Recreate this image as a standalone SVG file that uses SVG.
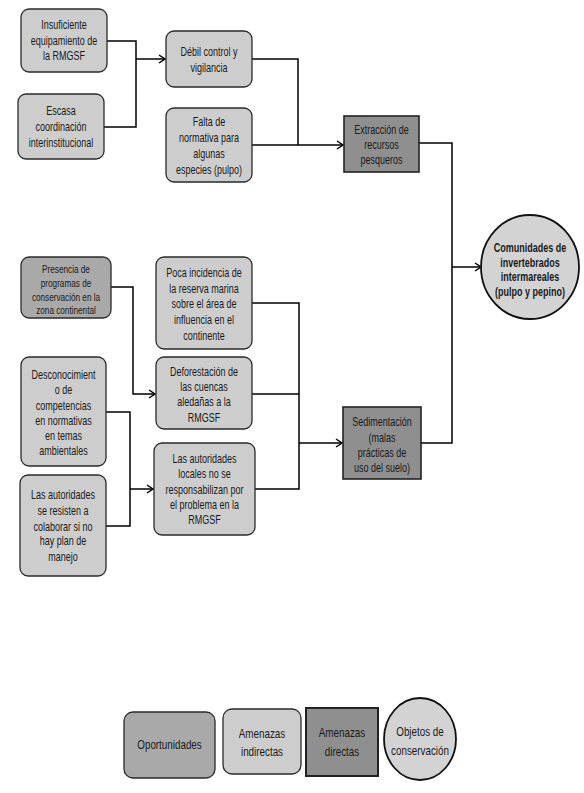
<svg xmlns="http://www.w3.org/2000/svg" width="584" height="793" viewBox="0 0 584 793">
<defs>
<marker id="arr" markerWidth="8" markerHeight="10" refX="7" refY="5" orient="auto" markerUnits="userSpaceOnUse">
<path d="M1,1 L7,5 L1,9" fill="none" stroke="#000" stroke-width="1.5"/>
</marker>
</defs>
<style>
text{font-family:"Liberation Sans",Arial,sans-serif;font-size:12.5px;fill:#1a1a1a;text-anchor:middle}
.ind{fill:#cdcdcd;stroke:#2a2a2a;stroke-width:1.3}
.opo{fill:#a9a9a9;stroke:#2a2a2a;stroke-width:1.3}
.dir{fill:#8f8f8f;stroke:#222;stroke-width:1.6}
.obj{fill:#d3d3d3;stroke:#111;stroke-width:1.8}
.b{font-weight:bold}
.lg{font-size:13px}
.c{fill:none;stroke:#000;stroke-width:1.5}
</style>
<rect width="584" height="793" fill="#fff"/>
<g id="connectors">
<path class="c" d="M107 41 H136 V127 H104"/>
<path class="c" d="M136 59 H165" marker-end="url(#arr)"/>
<path class="c" d="M252 59 H298 V145"/>
<path class="c" d="M252 145 H343" marker-end="url(#arr)"/>
<path class="c" d="M419 143 H452 V443 H421"/>
<path class="c" d="M452 267 H481" marker-end="url(#arr)"/>
<path class="c" d="M111 287 H133 V394 H155" marker-end="url(#arr)"/>
<path class="c" d="M106 412 H130 V526 H106"/>
<path class="c" d="M130 489 H153" marker-end="url(#arr)"/>
<path class="c" d="M252 303 H299 V489 H255"/>
<path class="c" d="M252 394 H299"/>
<path class="c" d="M299 443 H342" marker-end="url(#arr)"/>
</g>
<g id="n1"><rect class="ind" x="21" y="9" width="86" height="63" rx="8"/>
<text transform="translate(64 0) scale(0.72 1)"><tspan x="0" y="29.5">Insuficiente</tspan><tspan x="0" y="45">equipamiento de</tspan><tspan x="0" y="60.5">la RMGSF</tspan></text></g>
<g id="n2"><rect class="ind" x="18" y="94" width="86" height="65" rx="8"/>
<text transform="translate(61 0) scale(0.72 1)"><tspan x="0" y="115.5">Escasa</tspan><tspan x="0" y="131.5">coordinación</tspan><tspan x="0" y="147.5">interinstitucional</tspan></text></g>
<g id="n3"><rect class="ind" x="166" y="31" width="86" height="56" rx="8"/>
<text transform="translate(209 0) scale(0.72 1)"><tspan x="0" y="56.5">Débil control y</tspan><tspan x="0" y="72.5">vigilancia</tspan></text></g>
<g id="n4"><rect class="ind" x="166" y="108" width="86" height="74" rx="8"/>
<text transform="translate(209 0) scale(0.72 1)"><tspan x="0" y="126.5">Falta de</tspan><tspan x="0" y="142.5">normativa para</tspan><tspan x="0" y="158.5">algunas</tspan><tspan x="0" y="174.5">especies (pulpo)</tspan></text></g>
<g id="n5"><rect class="dir" x="344" y="116" width="75" height="56"/>
<text transform="translate(381.5 0) scale(0.72 1)"><tspan x="0" y="134.5">Extracción de</tspan><tspan x="0" y="149.5">recursos</tspan><tspan x="0" y="164.5">pesqueros</tspan></text></g>
<g id="n6"><ellipse class="obj" cx="530" cy="267" rx="49" ry="52"/>
<text class="b" transform="translate(530 0) scale(0.72 1)"><tspan x="0" y="252.5">Comunidades de</tspan><tspan x="0" y="267">invertebrados</tspan><tspan x="0" y="281.5">intermareales</tspan><tspan x="0" y="296.5">(pulpo y pepino)</tspan></text></g>
<g id="n7"><rect class="opo" x="21" y="257" width="90" height="61" rx="8"/>
<text style="font-size:11.5px" transform="translate(66 0) scale(0.713 1)"><tspan x="0" y="273.5">Presencia de</tspan><tspan x="0" y="287.5">programas de</tspan><tspan x="0" y="301.5">conservación en la</tspan><tspan x="0" y="314.5">zona continental</tspan></text></g>
<g id="n8"><rect class="ind" x="156" y="257" width="96" height="92" rx="8"/>
<text transform="translate(204 0) scale(0.72 1)"><tspan x="0" y="277.5">Poca incidencia de</tspan><tspan x="0" y="293.5">la reserva marina</tspan><tspan x="0" y="308.5">sobre el área de</tspan><tspan x="0" y="324.5">influencia en el</tspan><tspan x="0" y="340.5">continente</tspan></text></g>
<g id="n9"><rect class="ind" x="156" y="357" width="96" height="72" rx="8"/>
<text transform="translate(204 0) scale(0.72 1)"><tspan x="0" y="376.5">Deforestación de</tspan><tspan x="0" y="391.5">las cuencas</tspan><tspan x="0" y="406.5">aledañas a la</tspan><tspan x="0" y="422.5">RMGSF</tspan></text></g>
<g id="n10"><rect class="ind" x="21" y="357" width="85" height="109" rx="8"/>
<text transform="translate(63.5 0) scale(0.72 1)"><tspan x="0" y="379.5">Desconocimient</tspan><tspan x="0" y="394.5">o de</tspan><tspan x="0" y="410.5">competencias</tspan><tspan x="0" y="425.5">en normativas</tspan><tspan x="0" y="440.5">en temas</tspan><tspan x="0" y="455.5">ambientales</tspan></text></g>
<g id="n11"><rect class="ind" x="20" y="475" width="86" height="101" rx="8"/>
<text transform="translate(63 0) scale(0.72 1)"><tspan x="0" y="499.5">Las autoridades</tspan><tspan x="0" y="515.5">se resisten a</tspan><tspan x="0" y="531.5">colaborar si no</tspan><tspan x="0" y="545.5">hay plan de</tspan><tspan x="0" y="561.5">manejo</tspan></text></g>
<g id="n12"><rect class="ind" x="154" y="443" width="101" height="92" rx="8"/>
<text transform="translate(204.5 0) scale(0.72 1)"><tspan x="0" y="463.5">Las autoridades</tspan><tspan x="0" y="478.5">locales no se</tspan><tspan x="0" y="494.5">responsabilizan por</tspan><tspan x="0" y="509.5">el problema en la</tspan><tspan x="0" y="524.5">RMGSF</tspan></text></g>
<g id="n13"><rect class="dir" x="343" y="407" width="78" height="72"/>
<text transform="translate(382 0) scale(0.72 1)"><tspan x="0" y="426.5">Sedimentación</tspan><tspan x="0" y="442.5">(malas</tspan><tspan x="0" y="457.5">prácticas de</tspan><tspan x="0" y="472.5">uso del suelo)</tspan></text></g>
<g id="legend">
<g id="lg-opo"><rect class="opo" x="124" y="712" width="91" height="66" rx="9"/>
<text class="lg" transform="translate(169.5 0) scale(0.757 1)" x="0" y="749.5">Oportunidades</text></g>
<g id="lg-ind"><rect class="ind" x="223" y="709" width="78" height="65" rx="9"/>
<text class="lg" transform="translate(262 0) scale(0.757 1)"><tspan x="0" y="738.5">Amenazas</tspan><tspan x="0" y="756.5">indirectas</tspan></text></g>
<g id="lg-dir"><rect class="dir" x="306" y="708" width="72" height="68" style="stroke-width:2"/>
<text class="lg" transform="translate(342 0) scale(0.757 1)"><tspan x="0" y="737.5">Amenazas</tspan><tspan x="0" y="756.5">directas</tspan></text></g>
<g id="lg-obj"><ellipse class="obj" cx="420" cy="739" rx="36" ry="41"/>
<text class="lg" transform="translate(420 0) scale(0.757 1)"><tspan x="0" y="736.5">Objetos de</tspan><tspan x="0" y="755.5">conservación</tspan></text></g>
</g>
</svg>
